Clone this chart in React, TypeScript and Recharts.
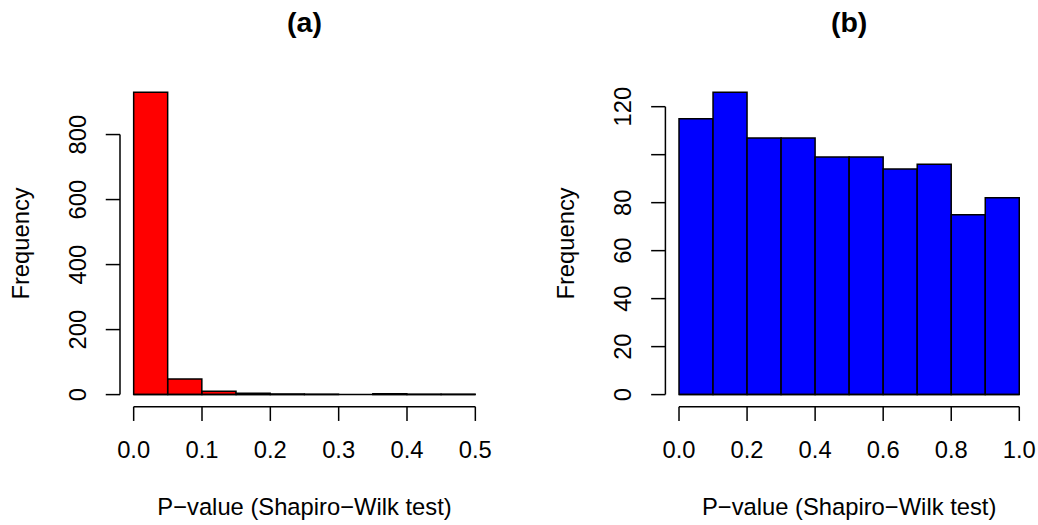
import React from 'react';
import { BarChart, Bar, XAxis, YAxis, ReferenceLine } from 'recharts';

// panel (a): p-values of the Shapiro-Wilk test, bins of width 0.05 (lower edges)
const binStartsA = [0, 0.05, 0.1, 0.15, 0.2, 0.25, 0.3, 0.35, 0.4, 0.45];
const countsA = [930, 48, 10, 4, 2, 1, 0, 3, 1, 1];
const rangeA = [0, 0.5];
const xTicksA = [0, 0.1, 0.2, 0.3, 0.4, 0.5];
const yTicksA = [0, 200, 400, 600, 800];

// panel (b): bins of width 0.1
const binStartsB = [0, 0.1, 0.2, 0.3, 0.4, 0.5, 0.6, 0.7, 0.8, 0.9];
const countsB = [115, 126, 107, 107, 99, 99, 94, 96, 75, 82];
const rangeB = [0, 1];
const xTicksB = [0, 0.2, 0.4, 0.6, 0.8, 1];
const yTicksB = [0, 20, 40, 60, 80, 100, 120];
const yDroppedB = [100]; // R drops this label (overlap)

const FONT_FAMILY = '"Liberation Sans", Arial, Helvetica, sans-serif';
const FS = 23.75;
const LINE = 28.5;
const TICK = LINE / 2;
const LW = 1.5;
const H = 525;
const TOP = 80.2;
const BOTTOM_Y = 406.7;
const Y_AXIS_W = 60;
const X_AXIS_H = 40;

interface PanelProps {
  title: string;
  binStarts: number[];
  counts: number[];
  range: number[];
  xTicks: number[];
  yTicks: number[];
  dropped?: number[];
  fill: string;
  width: number;
  plotLeft: number;
  plotRight: number;
}

function Panel({ title, binStarts, counts, range, xTicks, yTicks, dropped = [], fill, width, plotLeft, plotRight }: PanelProps) {
  const plotW = plotRight - plotLeft;
  const span = range[1] - range[0];
  const xDomain = [range[0] - 0.04 * span, range[1] + 0.04 * span];
  const yMax = Math.max(...counts);
  const yDomain = [-0.04 * yMax, 1.04 * yMax];
  const pad = (plotW * 0.04) / 1.08;
  const data = binStarts.map((lo, i) => ({ bin: String(lo), lo, count: counts[i] }));
  const cx = (plotLeft + plotRight) / 2;
  const cy = (TOP + BOTTOM_Y) / 2;
  const textStyle = { fontFamily: FONT_FAMILY, fontSize: FS, fill: '#000' };

  const xTick = (props: any) => (
    <text x={props.x} y={BOTTOM_Y + 1.8 * LINE} textAnchor="middle" style={textStyle}>
      {Number(props.payload.value).toFixed(1)}
    </text>
  );
  const yTick = (props: any) => {
    const v = props.payload.value;
    if (dropped.includes(v)) return <g />;
    const bx = plotLeft - 1.2 * LINE;
    return (
      <text x={bx} y={props.y} textAnchor="middle" transform={`rotate(-90, ${bx}, ${props.y})`} style={textStyle}>
        {String(v)}
      </text>
    );
  };

  return (
    <div style={{ position: 'relative', width, height: H }}>
      <BarChart
        width={width}
        height={H}
        data={data}
        margin={{ top: TOP, bottom: H - BOTTOM_Y - X_AXIS_H, left: plotLeft - Y_AXIS_W, right: width - plotRight }}
        barCategoryGap={0}
        barGap={0}
      >
        <XAxis
          xAxisId="num"
          dataKey="lo"
          type="number"
          domain={xDomain}
          allowDataOverflow
          ticks={xTicks}
          interval={0}
          height={X_AXIS_H}
          tickSize={TICK}
          tickLine={{ stroke: '#000', strokeWidth: LW }}
          axisLine={false}
          tick={xTick}
        />
        <XAxis xAxisId="cat" dataKey="bin" type="category" hide height={0} padding={{ left: pad, right: pad }} />
        <YAxis
          type="number"
          domain={yDomain}
          allowDataOverflow
          ticks={yTicks}
          interval={0}
          width={Y_AXIS_W}
          tickSize={TICK}
          tickLine={{ stroke: '#000', strokeWidth: LW }}
          axisLine={false}
          tick={yTick}
        />
        <Bar xAxisId="cat" dataKey="count" fill={fill} stroke="#000" strokeWidth={LW} isAnimationActive={false} />
        {/* flat border of empty bins */}
        <ReferenceLine
          xAxisId="num"
          segment={[{ x: range[0], y: 0 }, { x: range[1], y: 0 }]}
          stroke="#000"
          strokeWidth={LW}
          ifOverflow="visible"
        />
        {/* R style axis lines, first tick to last tick */}
        <ReferenceLine
          xAxisId="num"
          segment={[{ x: xTicks[0], y: yDomain[0] }, { x: xTicks[xTicks.length - 1], y: yDomain[0] }]}
          stroke="#000"
          strokeWidth={LW}
          ifOverflow="visible"
        />
        <ReferenceLine
          xAxisId="num"
          segment={[{ x: xDomain[0], y: yTicks[0] }, { x: xDomain[0], y: yTicks[yTicks.length - 1] }]}
          stroke="#000"
          strokeWidth={LW}
          ifOverflow="visible"
        />
      </BarChart>
      <svg width={width} height={H} style={{ position: 'absolute', left: 0, top: 0, pointerEvents: 'none' }}>
        <text x={cx} y={32} textAnchor="middle" style={{ ...textStyle, fontSize: FS * 1.2, fontWeight: 'bold' }}>
          {title}
        </text>
        <text x={cx} y={BOTTOM_Y + 3.8 * LINE} textAnchor="middle" style={textStyle}>
          P−value (Shapiro−Wilk test)
        </text>
        <text
          x={plotLeft - 3.2 * LINE}
          y={cy}
          textAnchor="middle"
          transform={`rotate(-90, ${plotLeft - 3.2 * LINE}, ${cy})`}
          style={textStyle}
        >
          Frequency
        </text>
      </svg>
    </div>
  );
}

export default function App() {
  return (
    <div style={{ display: 'flex', width: 1038, height: H, background: '#fff' }}>
      <style>{'body{margin:0;}'}</style>
      <Panel
        title="(a)"
        binStarts={binStartsA}
        counts={countsA}
        range={rangeA}
        xTicks={xTicksA}
        yTicks={yTicksA}
        fill="#FF0000"
        width={519}
        plotLeft={120}
        plotRight={489}
      />
      <Panel
        title="(b)"
        binStarts={binStartsB}
        counts={countsB}
        range={rangeB}
        xTicks={xTicksB}
        yTicks={yTicksB}
        dropped={yDroppedB}
        fill="#0000FF"
        width={519}
        plotLeft={146.4}
        plotRight={513.9}
      />
    </div>
  );
}
